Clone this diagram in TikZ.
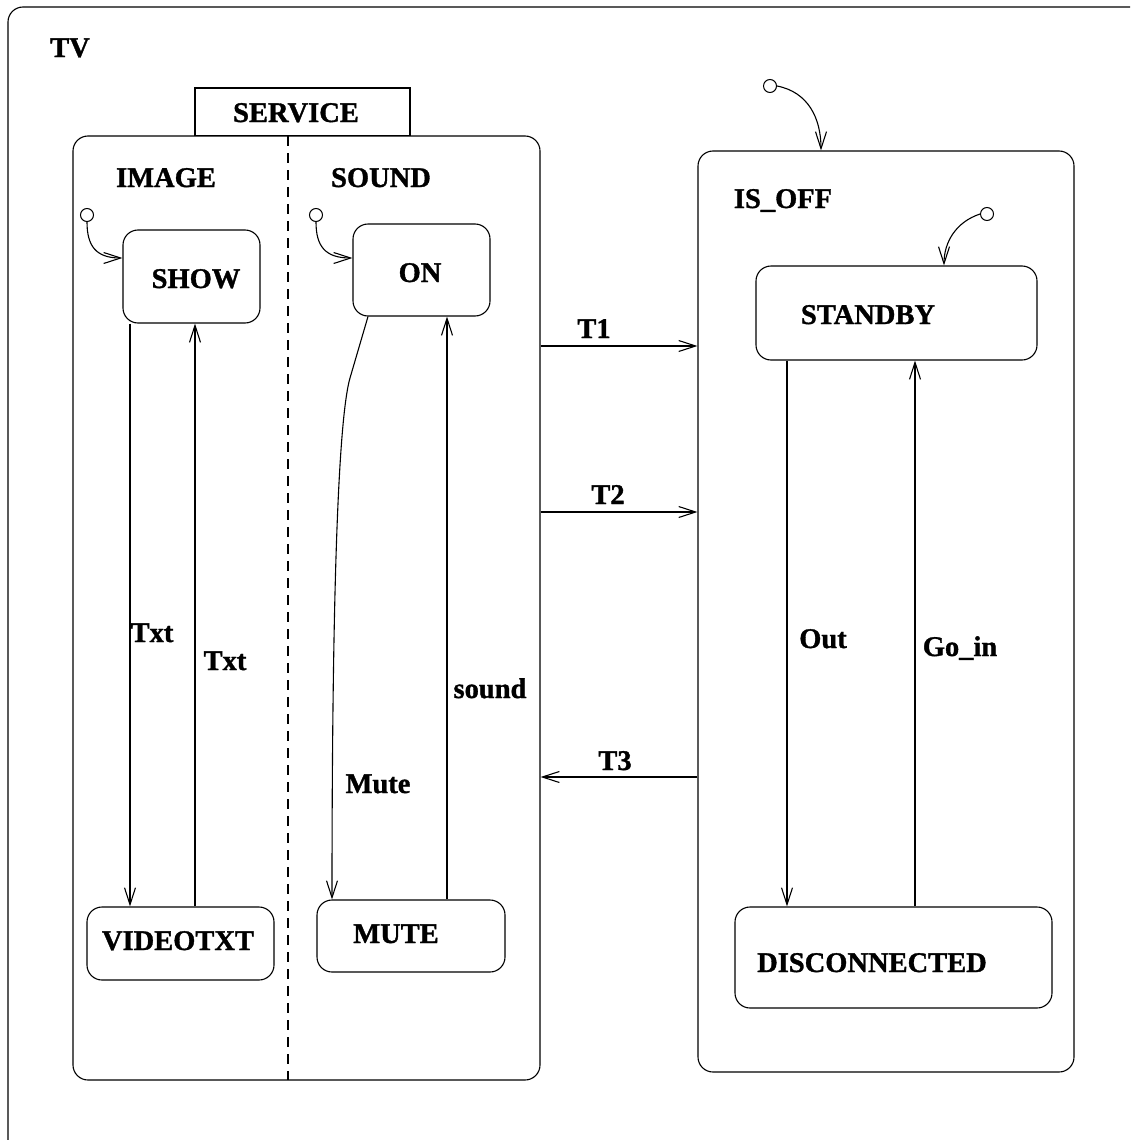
\documentclass[tikz,border=0pt]{standalone}
\usepackage{fontspec}
\setmainfont[BoldFeatures={FakeBold=1.2}]{Liberation Serif}
\usetikzlibrary{arrows.meta}
\begin{document}
\begin{tikzpicture}[x=1pt,y=-1pt,
  every node/.style={font=\fontsize{28.5}{31}\selectfont\bfseries},
  sbox/.style={draw, rounded corners=15pt, line width=1.1pt, inner sep=0pt},
  lbl/.style={inner sep=0pt, anchor=base},
  tr/.style={line width=1.1pt, -{Straight Barb[length=17pt,width=11pt,line width=1.1pt]}},
  initc/.style={draw, circle, minimum size=13pt, inner sep=0pt, line width=1pt}]
\useasboundingbox (0,0) rectangle (1130,1140);
\clip (0,0) rectangle (1130,1140);
% outer TV frame
\node[sbox, minimum width=1137pt, minimum height=1148pt] (tv) at (576.5,581) {};
\node[lbl] (tvl) at (70,57) {TV};
% SERVICE
\node[draw, line width=1.1pt, inner sep=0pt, minimum width=215pt, minimum height=48pt] (tab) at (302.5,112) {};
\node[sbox, fill=white, minimum width=467pt, minimum height=944pt] (service) at (306.5,608) {};
\node[lbl] (tabl) at (296,122) {SERVICE};
\coordinate (dtop) at (288,136);
\coordinate (dbot) at (288,1080);
\draw[line width=1.1pt, dash pattern=on 10pt off 7pt] (dtop) -- (dbot);
\node[lbl] (imgl) at (166,187) {IMAGE};
\node[lbl] (sndl) at (381,187) {SOUND};
% states in SERVICE
\node[sbox, minimum width=137pt, minimum height=93pt] (show) at (191.5,276.5) {};
\node[lbl] (showl) at (196,288) {SHOW};
\node[sbox, minimum width=137pt, minimum height=92pt] (on) at (421.5,270) {};
\node[lbl] (onl) at (420,282) {ON};
\node[sbox, minimum width=187pt, minimum height=73pt] (videotxt) at (180.5,943.5) {};
\node[lbl] (vtl) at (178,950) {VIDEOTXT};
\node[sbox, minimum width=188pt, minimum height=72pt] (mute) at (411,936) {};
\node[lbl] (mutel) at (396,943) {MUTE};
% initial markers
\node[initc] (i1) at (87,215) {};
\node[initc] (i2) at (316,215) {};
\draw[tr] (i1.south) .. controls (87,246) and (96,258) .. (show.west |- 0,258);
\draw[tr] (i2.south) .. controls (316,246) and (325,258) .. (on.west |- 0,258);
% transitions in SERVICE
\draw[tr] (130,0 |- show.south) -- (130,0 |- videotxt.north);
\draw[tr] (195,0 |- videotxt.north) -- (195,0 |- show.south);
\node[lbl] (txt1) at (152,642) {Txt};
\node[lbl] (txt2) at (225,670) {Txt};
\coordinate (mk) at (350,378);
\draw[tr] (368,0 |- on.south) -- (mk) .. controls (338,420) and (332,600) .. (332,0 |- mute.north);
\draw[tr] (447,0 |- mute.north) -- (447,0 |- on.south);
\node[lbl] (mutet) at (378,793) {Mute};
\node[lbl] (soundt) at (490,698) {sound};
% IS_OFF
\node[sbox, minimum width=376pt, minimum height=921pt] (isoff) at (886,611.5) {};
\node[lbl] (isoffl) at (783,208) {IS\_OFF};
\node[sbox, minimum width=281pt, minimum height=94pt] (standby) at (896.5,313) {};
\node[lbl] (stbl) at (868,324) {STANDBY};
\node[sbox, minimum width=317pt, minimum height=101pt] (disc) at (893.5,957.5) {};
\node[lbl] (discl) at (872,972) {DISCONNECTED};
\node[initc] (i3) at (770,86) {};
\node[initc] (i4) at (987,214) {};
\draw[tr] (i3.east) .. controls (808,92) and (821,118) .. (821,0 |- isoff.north);
\draw[tr] (i4.west) .. controls (956,222) and (944,242) .. (944,0 |- standby.north);
\draw[tr] (787,0 |- standby.south) -- (787,0 |- disc.north);
\draw[tr] (915,0 |- disc.north) -- (915,0 |- standby.south);
\node[lbl] (outl) at (823,648) {Out};
\node[lbl] (goinl) at (960,656) {Go\_in};
% T transitions
\draw[tr] (service.east |- 0,346) -- (isoff.west |- 0,346);
\draw[tr] (service.east |- 0,512) -- (isoff.west |- 0,512);
\draw[tr] (isoff.west |- 0,777) -- (service.east |- 0,777);
\node[lbl] (t1) at (594,338) {T1};
\node[lbl] (t2) at (608,504) {T2};
\node[lbl] (t3) at (615,770) {T3};
\end{tikzpicture}
\end{document}
